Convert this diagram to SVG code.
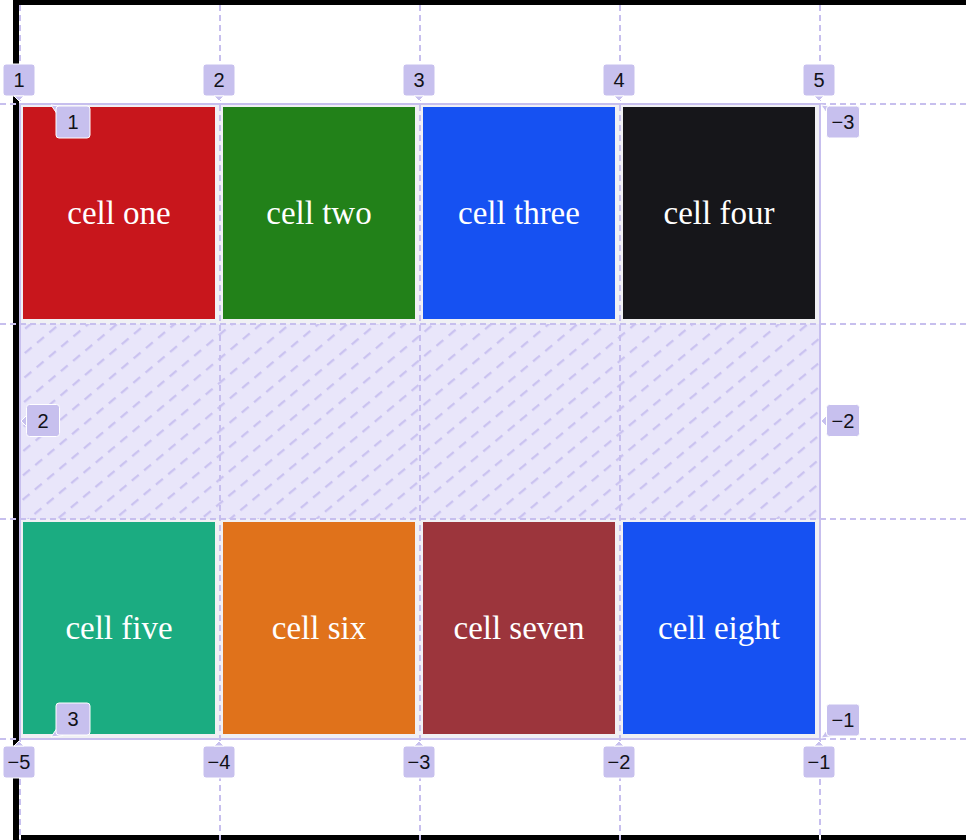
<svg xmlns="http://www.w3.org/2000/svg" width="966" height="840" viewBox="0 0 966 840">
<style>
.cell{stroke:none}
.ct{font-family:"Liberation Serif","Times New Roman",serif;font-size:33px;fill:#ffffff;text-anchor:middle}
.gl{stroke:#c7bfee;stroke-width:2;fill:none}
.dash{stroke-dasharray:6 4}
.lb{fill:#c7c0ee;stroke:#ffffff;stroke-width:1}
.lt{font-family:"Liberation Sans",Arial,sans-serif;font-size:20px;fill:#111118;text-anchor:middle}
</style>
<defs>
<pattern id="hatch" patternUnits="userSpaceOnUse" width="16" height="18.5" patternTransform="rotate(-40)">
<line x1="0" y1="9" x2="16" y2="9" stroke="#c9c1f0" stroke-width="2.2" stroke-dasharray="9 7"/>
</pattern>
</defs>
<rect width="966" height="840" fill="#ffffff"/>
<g id="container-border" fill="#000000">
<rect x="13" y="0" width="6" height="840"/>
<rect x="13" y="0" width="953" height="5"/>
<rect x="13" y="835" width="953" height="5"/>
</g>
<g id="grid-bg">
<rect x="20" y="104" width="800" height="220" fill="#f0f0f4"/>
<rect x="20" y="519" width="800" height="220" fill="#f0f0f4"/>
<rect x="20" y="324" width="800" height="195" fill="#e9e6fa"/>
<rect x="20" y="324" width="800" height="195" fill="url(#hatch)"/>
</g>
<g id="cell-one"><rect class="cell" x="23" y="107" width="192" height="212" fill="#c8161c"/><text class="ct" x="119" y="224">cell one</text></g>
<g id="cell-two"><rect class="cell" x="223" y="107" width="192" height="212" fill="#228119"/><text class="ct" x="319" y="224">cell two</text></g>
<g id="cell-three"><rect class="cell" x="423" y="107" width="192" height="212" fill="#1651f2"/><text class="ct" x="519" y="224">cell three</text></g>
<g id="cell-four"><rect class="cell" x="623" y="107" width="192" height="212" fill="#16161a"/><text class="ct" x="719" y="224">cell four</text></g>
<g id="cell-five"><rect class="cell" x="23" y="522" width="192" height="212" fill="#1bac81"/><text class="ct" x="119" y="639">cell five</text></g>
<g id="cell-six"><rect class="cell" x="223" y="522" width="192" height="212" fill="#e0721b"/><text class="ct" x="319" y="639">cell six</text></g>
<g id="cell-seven"><rect class="cell" x="423" y="522" width="192" height="212" fill="#9c353c"/><text class="ct" x="519" y="639">cell seven</text></g>
<g id="cell-eight"><rect class="cell" x="623" y="522" width="192" height="212" fill="#1651f2"/><text class="ct" x="719" y="639">cell eight</text></g>
<g id="connectors">
<g fill="#ffffff">
<rect x="19" y="835" width="2" height="5"/><rect x="219" y="835" width="2" height="5"/><rect x="419" y="835" width="2" height="5"/><rect x="619" y="835" width="2" height="5"/><rect x="819" y="835" width="2" height="5"/>
</g>
<path class="gl dash" d="M20 5V104M20 739V840M220 5V840M420 5V840M620 5V840M820 5V104M820 739V840"/>
<path class="gl dash" d="M0 104H20M820 104H966M0 739H20M820 739H966M0 324H966M0 519H966"/>
<path class="gl" d="M20 104H820V739H20Z"/>
</g>
<g id="label-col-1"><rect class="lb" x="3" y="64" width="32" height="32" rx="3"/><polygon class="lb" points="14,96 24,96 19,101" stroke="none"/><text class="lt" x="19" y="87">1</text></g>
<g id="label-col-2"><rect class="lb" x="203" y="64" width="32" height="32" rx="3"/><polygon class="lb" points="214,96 224,96 219,101" stroke="none"/><text class="lt" x="219" y="87">2</text></g>
<g id="label-col-3"><rect class="lb" x="403" y="64" width="32" height="32" rx="3"/><polygon class="lb" points="414,96 424,96 419,101" stroke="none"/><text class="lt" x="419" y="87">3</text></g>
<g id="label-col-4"><rect class="lb" x="603" y="64" width="32" height="32" rx="3"/><polygon class="lb" points="614,96 624,96 619,101" stroke="none"/><text class="lt" x="619" y="87">4</text></g>
<g id="label-col-5"><rect class="lb" x="803" y="64" width="32" height="32" rx="3"/><polygon class="lb" points="814,96 824,96 819,101" stroke="none"/><text class="lt" x="819" y="87">5</text></g>
<g id="label-col-n5"><rect class="lb" x="3" y="746" width="32" height="32" rx="3"/><polygon class="lb" points="14,746 24,746 19,741" stroke="none"/><text class="lt" x="19" y="769">−5</text></g>
<g id="label-col-n4"><rect class="lb" x="203" y="746" width="32" height="32" rx="3"/><polygon class="lb" points="214,746 224,746 219,741" stroke="none"/><text class="lt" x="219" y="769">−4</text></g>
<g id="label-col-n3"><rect class="lb" x="403" y="746" width="32" height="32" rx="3"/><polygon class="lb" points="414,746 424,746 419,741" stroke="none"/><text class="lt" x="419" y="769">−3</text></g>
<g id="label-col-n2"><rect class="lb" x="603" y="746" width="32" height="32" rx="3"/><polygon class="lb" points="614,746 624,746 619,741" stroke="none"/><text class="lt" x="619" y="769">−2</text></g>
<g id="label-col-n1"><rect class="lb" x="803" y="746" width="32" height="32" rx="3"/><polygon class="lb" points="814,746 824,746 819,741" stroke="none"/><text class="lt" x="819" y="769">−1</text></g>
<g id="label-row-1"><polygon class="lb" points="51,105 63,106.5 56.5,113"/><rect class="lb" x="56" y="106" width="34" height="32" rx="3"/><text class="lt" x="73" y="129">1</text></g>
<g id="label-row-2"><polygon class="lb" points="21,421 27,415 27,427"/><rect class="lb" x="26.5" y="404.5" width="33" height="32" rx="3"/><text class="lt" x="43" y="428">2</text></g>
<g id="label-row-3"><polygon class="lb" points="51,737 63,735.5 56.5,729"/><rect class="lb" x="56" y="703" width="34" height="32" rx="3"/><text class="lt" x="73" y="726">3</text></g>
<g id="label-row-n3"><polygon class="lb" points="821,105 833,106.5 826.5,113"/><rect class="lb" x="826.5" y="106" width="33" height="32" rx="3"/><text class="lt" x="843" y="129">−3</text></g>
<g id="label-row-n2"><polygon class="lb" points="821,421 827,415 827,427"/><rect class="lb" x="826.5" y="404.5" width="33" height="32" rx="3"/><text class="lt" x="843" y="428">−2</text></g>
<g id="label-row-n1"><polygon class="lb" points="821,738 833,736.5 826.5,730"/><rect class="lb" x="826.5" y="704" width="33" height="32" rx="3"/><text class="lt" x="843" y="727">−1</text></g>
</svg>
